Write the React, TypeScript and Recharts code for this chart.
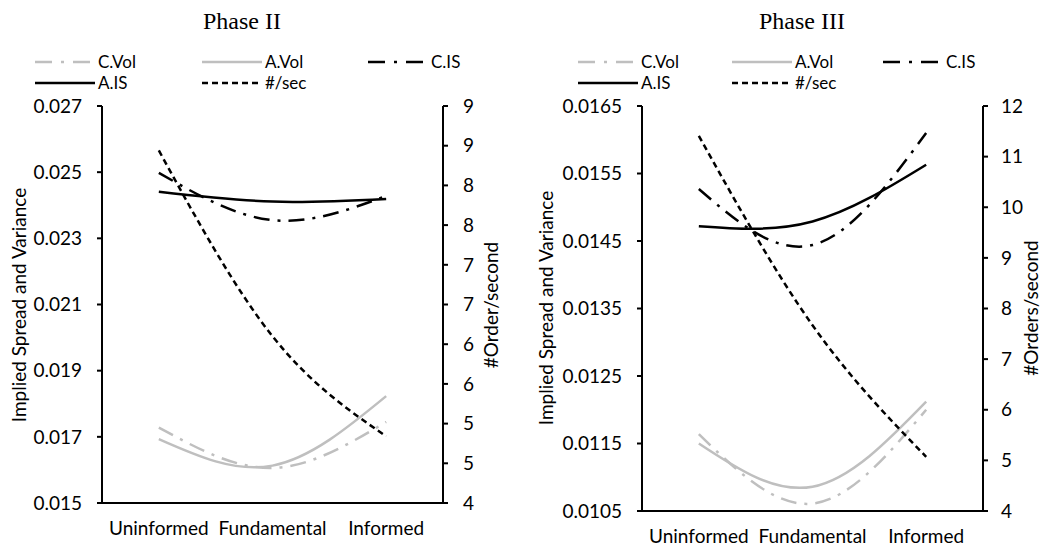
import React from 'react';
import { LineChart, Line, XAxis, YAxis } from 'recharts';

// ---------- data ----------
const categories = ['Uninformed', 'Fundamental', 'Informed'];
const categoryPos = [0.5, 1.5, 2.5];
const xBoundaryTicks = [0, 1, 2, 3];

// Phase II
const p2CVol = [0.01728, 0.01606, 0.01745];
const p2AVol = [0.01693, 0.01613, 0.01823];
const p2CIS = [0.02498, 0.02355, 0.02428];
const p2AIS = [0.02441, 0.02411, 0.02419];
const p2Rate = [8.44, 6.1, 4.84];
const p2LeftTicks = [0.015, 0.017, 0.019, 0.021, 0.023, 0.025, 0.027];
const p2RightTicks = [4, 4.5, 5, 5.5, 6, 6.5, 7, 7.5, 8, 8.5, 9];

// Phase III
const p3CVol = [0.01164, 0.01061, 0.012];
const p3AVol = [0.0115, 0.01086, 0.01212];
const p3CIS = [0.01527, 0.01444, 0.0161];
const p3AIS = [0.01472, 0.01479, 0.01563];
const p3Rate = [11.41, 7.67, 5.07];
const p3LeftTicks = [0.0105, 0.0115, 0.0125, 0.0135, 0.0145, 0.0155, 0.0165];
const p3RightTicks = [4, 5, 6, 7, 8, 9, 10, 11, 12];

const buildRows = (cv: number[], av: number[], ci: number[], ai: number[], r: number[]) =>
  categories.map((c, i) => ({
    cat: c,
    pos: categoryPos[i],
    cVol: cv[i],
    aVol: av[i],
    cIs: ci[i],
    aIs: ai[i],
    rate: r[i],
  }));

const p2Rows = buildRows(p2CVol, p2AVol, p2CIS, p2AIS, p2Rate);
const p3Rows = buildRows(p3CVol, p3AVol, p3CIS, p3AIS, p3Rate);

// ---------- styles ----------
const GRAY = '#bfbfbf';
const BLACK = '#000000';
const DASHDOT = '16 8 3 8';
const DASHED = '6 4';
const SANS = 'Lato, "Open Sans", sans-serif';
const SERIF = '"Liberation Serif", "Times New Roman", serif';
const tickStyle = { fill: '#000', fontSize: 19, fontFamily: SANS };

type PanelProps = {
  left: number;
  width: number;
  rows: any[];
  title: string;
  titleX: number;
  leftTicks: number[];
  leftDigits: number;
  rightTicks: number[];
  rightLabel: string;
  marginTop: number;
  plotBottom: number;
  yAxisLeftW: number;
  yAxisRightW: number;
  leftTickMargin: number;
  rightTickMargin: number;
  legendX: number[];
  leftLabelX: number;
  rightLabelX: number;
  labelY: number;
};

const legendItems = [
  { name: 'C.Vol', color: GRAY, dash: '17 9 3 9', row: 0, col: 0 },
  { name: 'A.Vol', color: GRAY, dash: undefined, row: 0, col: 1 },
  { name: 'C.IS', color: BLACK, dash: '17 9 3 9', row: 0, col: 2 },
  { name: 'A.IS', color: BLACK, dash: undefined, row: 1, col: 0 },
  { name: '#/sec', color: BLACK, dash: DASHED, row: 1, col: 1 },
];

const Panel = (p: PanelProps) => {
  const height = 550;
  const bottomSpace = height - p.plotBottom;
  const leftDomain = [p.leftTicks[0], p.leftTicks[p.leftTicks.length - 1]];
  const rightDomain = [p.rightTicks[0], p.rightTicks[p.rightTicks.length - 1]];
  return (
    <div style={{ position: 'absolute', left: p.left, top: 0, width: p.width, height }}>
      <LineChart
        width={p.width}
        height={height}
        data={p.rows}
        margin={{ top: p.marginTop, right: 0, bottom: 0, left: 0 }}
      >
        <XAxis
          xAxisId="b"
          dataKey="pos"
          type="number"
          domain={[0, 3]}
          ticks={xBoundaryTicks}
          allowDataOverflow
          tick={false}
          tickSize={6}
          height={6}
          axisLine={{ stroke: '#000', strokeWidth: 2 }}
          tickLine={{ stroke: '#000', strokeWidth: 2 }}
        />
        <XAxis
          xAxisId="c"
          dataKey="pos"
          type="number"
          domain={[0, 3]}
          ticks={categoryPos}
          allowDataOverflow
          tickFormatter={(v: number) => categories[Math.floor(v)]}
          axisLine={false}
          tickLine={false}
          tickSize={6}
          tickMargin={7}
          height={bottomSpace - 6}
          tick={tickStyle}
          interval={0}
        />
        <YAxis
          yAxisId="l"
          orientation="left"
          domain={leftDomain}
          ticks={p.leftTicks}
          allowDataOverflow
          interval={0}
          width={p.yAxisLeftW}
          tickSize={5}
          tickMargin={p.leftTickMargin}
          tickFormatter={(v: number) => v.toFixed(p.leftDigits)}
          tick={tickStyle}
          axisLine={{ stroke: '#000', strokeWidth: 2 }}
          tickLine={{ stroke: '#000', strokeWidth: 2 }}
        />
        <YAxis
          yAxisId="r"
          orientation="right"
          domain={rightDomain}
          ticks={p.rightTicks}
          allowDataOverflow
          interval={0}
          width={p.yAxisRightW}
          tickSize={5}
          tickMargin={p.rightTickMargin}
          tickFormatter={(v: number) => String(Math.round(v))}
          tick={tickStyle}
          axisLine={{ stroke: '#000', strokeWidth: 2 }}
          tickLine={{ stroke: '#000', strokeWidth: 2 }}
        />
        <Line xAxisId="b" yAxisId="l" dataKey="cVol" type="natural" stroke={GRAY} strokeWidth={2.5} strokeDasharray={DASHDOT} dot={false} isAnimationActive={false} />
        <Line xAxisId="b" yAxisId="l" dataKey="aVol" type="natural" stroke={GRAY} strokeWidth={2.5} dot={false} isAnimationActive={false} />
        <Line xAxisId="b" yAxisId="l" dataKey="cIs" type="natural" stroke={BLACK} strokeWidth={2.5} strokeDasharray={DASHDOT} dot={false} isAnimationActive={false} />
        <Line xAxisId="b" yAxisId="l" dataKey="aIs" type="natural" stroke={BLACK} strokeWidth={2.5} dot={false} isAnimationActive={false} />
        <Line xAxisId="b" yAxisId="r" dataKey="rate" type="natural" stroke={BLACK} strokeWidth={2.5} strokeDasharray={DASHED} dot={false} isAnimationActive={false} />
      </LineChart>
      <svg
        width={p.width}
        height={height}
        style={{ position: 'absolute', left: 0, top: 0, pointerEvents: 'none' }}
      >
        <text x={p.titleX} y={29} textAnchor="middle" fontFamily={SERIF} fontSize={24} fill="#000">
          {p.title}
        </text>
        {legendItems.map((it) => {
          const x0 = p.legendX[it.col];
          const y = it.row === 0 ? 62 : 83;
          return (
            <g key={it.name}>
              <line x1={x0} x2={x0 + 60} y1={y} y2={y} stroke={it.color} strokeWidth={2.5} strokeDasharray={it.dash} />
              <text x={x0 + 63} y={y + 6} fontFamily={SANS} fontSize={17} fill="#000">
                {it.name}
              </text>
            </g>
          );
        })}
        <text
          x={p.leftLabelX}
          y={p.labelY}
          transform={`rotate(-90 ${p.leftLabelX} ${p.labelY})`}
          textAnchor="middle"
          dominantBaseline="central"
          fontFamily={SANS}
          fontSize={19}
          fill="#000"
        >
          Implied Spread and Variance
        </text>
        <text
          x={p.rightLabelX}
          y={p.labelY}
          transform={`rotate(-90 ${p.rightLabelX} ${p.labelY})`}
          textAnchor="middle"
          dominantBaseline="central"
          fontFamily={SANS}
          fontSize={19}
          fill="#000"
        >
          {p.rightLabel}
        </text>
      </svg>
    </div>
  );
}

export default function App() {
  return (
    <div style={{ position: 'absolute', left: 0, top: 0, width: 1041, height: 550, background: '#fff' }}>
      <Panel
        left={0}
        width={520}
        rows={p2Rows}
        title="Phase II"
        titleX={242}
        leftTicks={p2LeftTicks}
        leftDigits={3}
        rightTicks={p2RightTicks}
        rightLabel="#Order/second"
        marginTop={106}
        plotBottom={503}
        yAxisLeftW={102}
        yAxisRightW={77}
        leftTickMargin={15}
        rightTickMargin={15}
        legendX={[35, 202, 368]}
        leftLabelX={18}
        rightLabelX={490}
        labelY={305}
      />
      <Panel
        left={520}
        width={521}
        rows={p3Rows}
        title="Phase III"
        titleX={282}
        leftTicks={p3LeftTicks}
        leftDigits={4}
        rightTicks={p3RightTicks}
        rightLabel="#Orders/second"
        marginTop={106}
        plotBottom={511}
        yAxisLeftW={122}
        yAxisRightW={58}
        leftTickMargin={15}
        rightTickMargin={13}
        legendX={[58, 212, 363]}
        leftLabelX={25}
        rightLabelX={510}
        labelY={308}
      />
    </div>
  );
}
